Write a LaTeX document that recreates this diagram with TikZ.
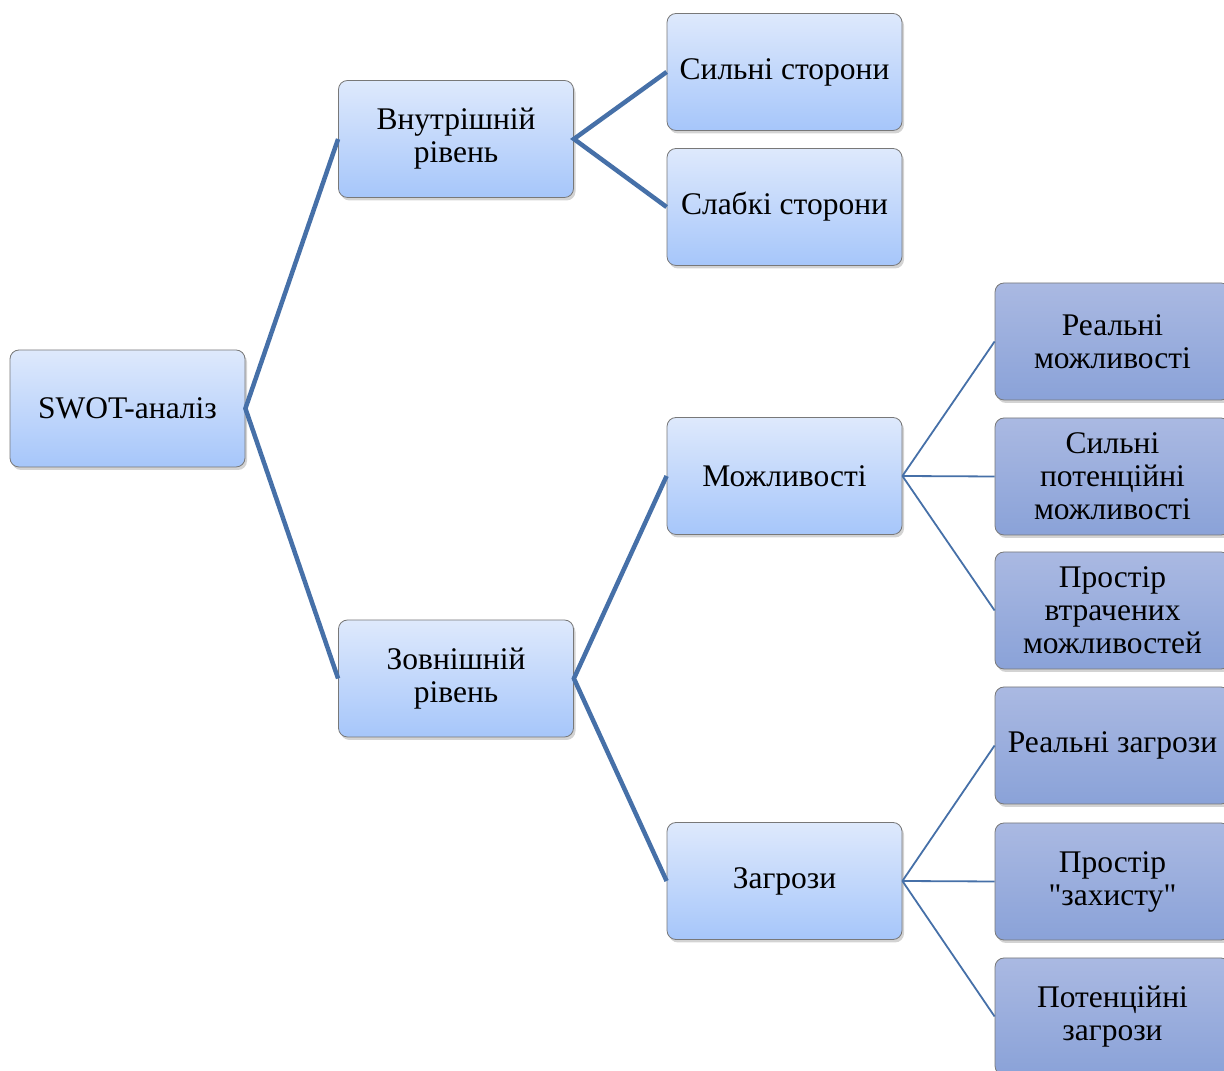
\documentclass[tikz,border=0pt]{standalone}
\usepackage{fontspec}
\setmainfont{Liberation Serif}
\newfontfamily\qfont{Liberation Serif}
\usetikzlibrary{shadows}
\definecolor{lighttop}{RGB}{222,233,252}
\definecolor{lightbot}{RGB}{166,198,250}
\definecolor{darktop}{RGB}{170,185,226}
\definecolor{darkbot}{RGB}{138,162,216}
\definecolor{boxline}{RGB}{120,120,120}
\definecolor{conn}{RGB}{70,112,168}
\tikzset{
  box/.style={draw=boxline, line width=0.8pt, rounded corners=9pt,
    minimum width=235pt, minimum height=117pt, align=center,
    font=\fontsize{31.5}{33}\selectfont, inner sep=2pt,
    drop shadow={opacity=0.35, shadow xshift=2pt, shadow yshift=-3pt}},
  lightbox/.style={box, top color=lighttop, bottom color=lightbot},
  darkbox/.style={box, top color=darktop, bottom color=darkbot},
  thick conn/.style={draw=conn, line width=4.5pt},
  thin conn/.style={draw=conn, line width=1.8pt}
}
\begin{document}
\begin{tikzpicture}[x=1pt,y=1pt]
\useasboundingbox (0,0) rectangle (1224,1071);
\clip (0,0) rectangle (1224,1071);
\node[lightbox] (swot) at (127.5,662.5) {SWOT-аналіз};
\node[lightbox] (inner) at (456,932) {Внутрішній\\рівень};
\node[lightbox] (outer) at (456,392.5) {Зовнішній\\рівень};
\node[lightbox] (strong) at (784.5,999) {Сильні сторони};
\node[lightbox] (weak) at (784.5,864) {Слабкі сторони};
\node[lightbox] (opp) at (784.5,595) {Можливості};
\node[lightbox] (thr) at (784.5,190) {Загрози};
\node[darkbox] (r1) at (1112.5,729.5) {Реальні\\можливості};
\node[darkbox] (r2) at (1112.5,594.5) {Сильні\\потенційні\\можливості};
\node[darkbox] (r3) at (1112.5,460.5) {Простір\\втрачених\\можливостей};
\node[darkbox] (r4) at (1112.5,325.5) {Реальні загрози};
\node[darkbox] (r5) at (1112.5,189.5) {Простір\\{\qfont "захисту"}};
\node[darkbox] (r6) at (1112.5,54.5) {Потенційні\\загрози};
\draw[thick conn] (inner.west) -- (swot.east) -- (outer.west);
\draw[thick conn] (strong.west) -- (inner.east) -- (weak.west);
\draw[thick conn] (opp.west) -- (outer.east) -- (thr.west);
\draw[thin conn] (opp.east) -- (r1.west);
\draw[thin conn] (opp.east) -- (r2.west);
\draw[thin conn] (opp.east) -- (r3.west);
\draw[thin conn] (thr.east) -- (r4.west);
\draw[thin conn] (thr.east) -- (r5.west);
\draw[thin conn] (thr.east) -- (r6.west);
\end{tikzpicture}
\end{document}
